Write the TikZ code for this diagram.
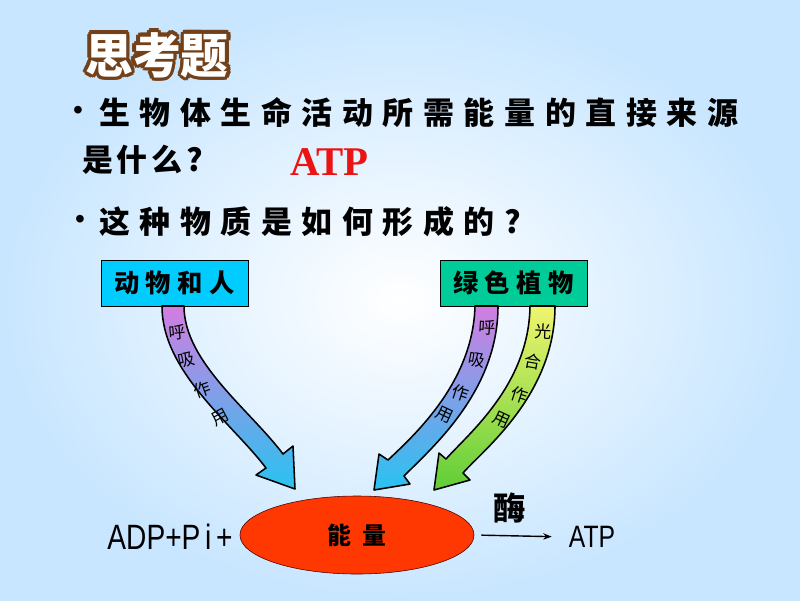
\documentclass[tikz,border=0pt]{standalone}
\usepackage{fontspec}
\setmainfont{Liberation Sans}
\newfontfamily\cjk{Noto Sans CJK SC}
\newfontfamily\cjkline[LetterSpace=31]{Noto Sans CJK SC}
\newfontfamily\cjkshort[LetterSpace=12]{Noto Sans CJK SC}
\newfontfamily\cjkbox[LetterSpace=26]{Noto Sans CJK SC}
\newfontfamily\atpfont{Liberation Serif}
\usetikzlibrary{arrows.meta,shapes.geometric}

\definecolor{bgblue}{RGB}{200,230,255}
\definecolor{titlebrown}{RGB}{115,65,25}
\definecolor{animalcyan}{RGB}{0,204,255}
\definecolor{plantgreen}{RGB}{0,204,153}
\definecolor{resppurple}{RGB}{210,125,225}
\definecolor{respcyan}{RGB}{40,195,240}
\definecolor{photoyellow}{RGB}{240,245,110}
\definecolor{photogreen}{RGB}{95,205,55}
\definecolor{energyred}{RGB}{255,55,0}
\definecolor{atpred}{RGB}{235,20,20}

\tikzset{
  titletext/.style={font=\cjk\bfseries\fontsize{34}{34}\selectfont,inner sep=0pt},
  linetext/.style={anchor=west,inner sep=0pt,font=\cjkline\bfseries\fontsize{22}{22}\selectfont},
  sourcebox/.style={draw,thin,minimum width=3.675cm,minimum height=1.15cm,
    font=\cjkbox\bfseries\fontsize{18}{18}\selectfont},
  bigarrow/.style={draw=black,line width=1.1pt,line join=round},
  arrowlabel/.style={font=\cjk\fontsize{12}{12}\selectfont,inner sep=0pt},
  formula/.style={font=\fontsize{25}{25}\selectfont,inner sep=0pt}
}

\begin{document}
\begin{tikzpicture}[x=0.025cm,y=-0.025cm]
  \useasboundingbox (0,0) rectangle (800,600);
  \shade[inner color=white,outer color=bgblue] (0,0) rectangle (800,600);

  % title
  \foreach \a in {0,30,...,330}
    \node[titletext,text=titlebrown,shift={(\a:2.6pt)}] at (157,55) {思考题};
  \node (title) [titletext,text=white] at (157,55) {思考题};

  % questions
  \node (dot1) at (78,113) {\fontsize{20}{20}\selectfont\textbullet};
  \node (q1) [linetext] at (99,113) {生物体生命活动所需能量的直接来源};
  \node (q1b) [linetext,font=\cjkshort\bfseries\fontsize{22}{22}\selectfont] at (82,160) {是什么?};
  \node (answer) [anchor=west,inner sep=0pt,text=atpred,font=\atpfont\bfseries\fontsize{29}{29}\selectfont] at (290,162) {ATP};
  \node (dot2) at (80,222) {\fontsize{20}{20}\selectfont\textbullet};
  \node (q2) [linetext] at (99,222) {这种物质是如何形成的?};

  % sources
  \node (animal) [sourcebox,fill=animalcyan] at (174.5,283) {动物和人};
  \node (plant) [sourcebox,fill=plantgreen] at (513.5,283) {绿色植物};

  % block arrows
  \shadedraw[bigarrow,top color=resppurple,bottom color=respcyan]
    (162,306) .. controls (162,372) and (232,423) .. (266,468) -- (256,475) -- (295,489)
    -- (293,446) -- (283,454) .. controls (250,410) and (184,362) .. (184,306) -- cycle;
  \shadedraw[bigarrow,top color=resppurple,bottom color=respcyan]
    (475,306) .. controls (473,380) and (418,432) .. (388,460) -- (379,454) -- (374,490)
    -- (410,484) -- (404,476) .. controls (434,446) and (498,390) .. (498,306) -- cycle;
  \shadedraw[bigarrow,top color=photoyellow,bottom color=photogreen]
    (530,306) .. controls (529,385) and (468,434) .. (446,459) -- (439,453) -- (434,490)
    -- (470,480) -- (463,473) .. controls (483,450) and (555,395) .. (555,306) -- cycle;

  % labels on arrows
  \node (r1a) [arrowlabel,rotate=5] at (177,333) {呼};
  \node (r1b) [arrowlabel,rotate=12] at (187,360) {吸};
  \node (r1c) [arrowlabel,rotate=20] at (202,390) {作};
  \node (r1d) [arrowlabel,rotate=28] at (220,417) {用};
  \node (r2a) [arrowlabel,rotate=-3] at (487,328) {呼};
  \node (r2b) [arrowlabel,rotate=-10] at (477,360) {吸};
  \node (r2c) [arrowlabel,rotate=-18] at (460,393) {作};
  \node (r2d) [arrowlabel,rotate=-25] at (445,415) {用};
  \node (p1) [arrowlabel,rotate=-3] at (543,332) {光};
  \node (p2) [arrowlabel,rotate=-10] at (533,362) {合};
  \node (p3) [arrowlabel,rotate=-18] at (519,395) {作};
  \node (p4) [arrowlabel,rotate=-25] at (502,420) {用};

  % reaction
  \node (adp) [formula] at (170,537) {\scalebox{0.8}[1]{ADP+P\,i\,+}};
  \node (energy) [ellipse,draw=black!70!red,thin,fill=energyred,minimum width=5.85cm,minimum height=1.95cm,
    font=\cjk\bfseries\fontsize{17}{17}\selectfont] at (357,535) {能\hspace{0.45em}量};
  \node (atp) [formula,font=\fontsize{22}{22}\selectfont] at (592,537) {\scalebox{0.8}[1]{ATP}};
  \node (enzyme) [font=\cjk\bfseries\fontsize{23}{23}\selectfont,inner sep=0pt] at (510,508) {酶};
  \draw[-{Stealth[length=6pt]},line width=1pt,shorten <=5pt,shorten >=12pt] (energy.east) -- (atp.west);
\end{tikzpicture}
\end{document}
